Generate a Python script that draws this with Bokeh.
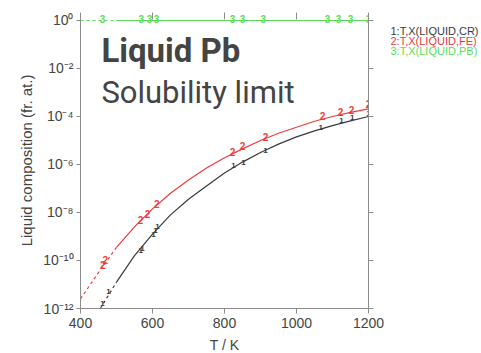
import numpy as np
from bokeh.plotting import figure
from bokeh.layouts import row
from bokeh.models import (LogAxis, LinearAxis, FixedTicker, CustomJSTickFormatter,
                          Label, Range1d)
from bokeh.core.properties import value
from bokeh.embed import file_html
from bokeh.resources import INLINE

# Calculated solubility of Fe and Cr in liquid Pb: log10 of mole fraction vs T (K)
temp_fe = [400, 450, 500, 550, 600, 650, 700, 750, 800, 850, 900, 950, 1000, 1050, 1100, 1150, 1200]
log_x_fe = [-11.6, -10.5, -9.45, -8.6, -7.85, -7.2, -6.65, -6.15, -5.72, -5.35, -5.0, -4.7,
            -4.45, -4.2, -4.0, -3.83, -3.68]
temp_cr = [455, 500, 550, 600, 650, 700, 750, 800, 850, 900, 950, 1000, 1050, 1100, 1150, 1200]
log_x_cr = [-12.0, -10.9, -9.8, -8.9, -8.1, -7.45, -6.9, -6.35, -5.9, -5.5, -5.15, -4.85,
            -4.6, -4.38, -4.18, -4.0]
# below this temperature the curves are drawn dashed (metastable extrapolation)
t_dashed_below = 500

# curve identifier labels placed along each calculated line
fe_label_t = [462, 469, 567, 586, 612, 822, 850, 914, 1072, 1122, 1153, 1200]
fe_label_log = [-10.2, -10.0, -8.3, -8.05, -7.65, -5.5, -5.25, -4.87, -3.96, -3.83, -3.75, -3.46]
cr_label_t = [461, 478, 567, 572, 603, 608, 614, 825, 853, 914, 1067, 1125, 1155, 1200]
cr_label_log = [-11.8, -11.3, -9.58, -9.5, -8.9, -8.75, -8.6, -6.04, -5.9, -5.42, -4.46, -4.17,
                -4.04, -3.88]
pb_label_t = [461, 569, 592, 611, 822, 850, 908, 1086, 1117, 1150, 1200]

x_ticks = [400, 600, 800, 1000, 1200]
y_ticks = [1e0, 1e-2, 1e-4, 1e-6, 1e-8, 1e-10, 1e-12]

legend_lines = ["1:T,X(LIQUID,CR)", "2:T,X(LIQUID,FE)", "3:T,X(LIQUID,PB)"]

RED = "#ee3b3b"
BLACK = "#3a3a3a"
GREEN = "#5ade5a"
AXIS = "#8c8c8c"
TEXT = "#444444"
FONT = "Liberation Sans"
HEAD_FONT = "Roboto"

p = figure(frame_width=288, frame_height=296, y_axis_type="log",
           x_range=Range1d(400, 1200), y_range=Range1d(1e-12, 10 ** 0.333),
           output_backend="svg", toolbar_location=None,
           min_border_left=80, min_border_right=22, min_border_top=12, min_border_bottom=45)
p.outline_line_color = None
p.xgrid.visible = False
p.ygrid.visible = False
p.background_fill_color = "white"
p.border_fill_color = "white"

sup_code = """
const sup = {'-':'\u207b','0':'\u2070','1':'\u00b9','2':'\u00b2','3':'\u00b3','4':'\u2074',
             '5':'\u2075','6':'\u2076','7':'\u2077','8':'\u2078','9':'\u2079'};
const e = Math.round(Math.log10(tick));
return '10' + String(e).split('').map(c => sup[c]).join('');
"""

# left (log) axis
ya = p.yaxis[0]
ya.ticker = FixedTicker(ticks=y_ticks, minor_ticks=[])
ya.formatter = CustomJSTickFormatter(code=sup_code)
ya.axis_label = "Liquid composition (fr. at.)"
ya.axis_label_text_font = FONT
ya.axis_label_text_font_style = "normal"
ya.axis_label_text_font_size = "15px"
ya.axis_label_text_color = TEXT
ya.axis_label_standoff = 5
ya.major_label_text_font = FONT
ya.major_label_text_font_size = "14px"
ya.major_label_text_color = TEXT
ya.major_label_standoff = 3
ya.major_tick_out = 4
ya.major_tick_in = 0
ya.axis_line_color = AXIS
ya.major_tick_line_color = AXIS

# bottom axis
xa = p.xaxis[0]
xa.ticker = FixedTicker(ticks=x_ticks, minor_ticks=[])
xa.axis_label = "T / K"
xa.axis_label_text_font = FONT
xa.axis_label_text_font_style = "normal"
xa.axis_label_text_font_size = "14px"
xa.axis_label_text_color = TEXT
xa.axis_label_standoff = 6
xa.major_label_text_font = FONT
xa.major_label_text_font_size = "14px"
xa.major_label_text_color = TEXT
xa.major_label_standoff = 4
xa.major_tick_out = 5
xa.major_tick_in = 0
xa.axis_line_color = AXIS
xa.major_tick_line_color = AXIS

blank = CustomJSTickFormatter(code="return '';")
right = LogAxis(ticker=FixedTicker(ticks=y_ticks, minor_ticks=[]), formatter=blank,
                major_tick_out=5, major_tick_in=0, major_label_standoff=0,
                major_label_text_font_size="1px",
                axis_line_color=AXIS, major_tick_line_color=AXIS)
p.add_layout(right, "right")
top = LinearAxis(ticker=FixedTicker(ticks=x_ticks[1:-1], minor_ticks=[]), formatter=blank,
                 major_tick_out=0, major_tick_in=7, major_label_standoff=0,
                 major_label_text_font_size="1px",
                 axis_line_color=None, major_tick_line_color=AXIS)
p.add_layout(top, "above")


# solubility curves, dashed at low temperature and solid above
def draw_curve(t, logx, color, width):
    t = np.asarray(t, dtype=float)
    y = 10.0 ** np.asarray(logx, dtype=float)
    lo = t <= t_dashed_below
    hi = t >= t_dashed_below
    p.line(t[lo], y[lo], line_color=color, line_width=width, line_dash="3 3")
    p.line(t[hi], y[hi], line_color=color, line_width=width)
    return t, y


t_fe, y_fe = draw_curve(temp_fe, log_x_fe, RED, 1.2)
t_cr, y_cr = draw_curve(temp_cr, log_x_cr, BLACK, 1.2)

# Pb fraction of the liquid: the balance of the Fe and Cr contents
t_pb = np.array(temp_fe, dtype=float)
y_cr_on_fe = 10.0 ** np.interp(t_pb, temp_cr, log_x_cr, left=-30)
y_pb = 1.0 - y_fe - y_cr_on_fe
draw_curve(t_pb, np.log10(y_pb), GREEN, 1.2)

# curve identifiers
p.text(x=fe_label_t, y=list(10.0 ** np.array(fe_label_log)), text=["2"] * len(fe_label_t),
       text_color=RED, text_font=value(FONT), text_font_size="10px",
       text_font_style="bold", text_align="center", text_baseline="middle")
p.text(x=cr_label_t, y=list(10.0 ** np.array(cr_label_log)), text=["1"] * len(cr_label_t),
       text_color=BLACK, text_font=value(FONT), text_font_size="8px",
       text_font_style="bold", text_align="center", text_baseline="middle")
pb_label_y = np.interp(pb_label_t, t_pb, y_pb)
p.text(x=pb_label_t, y=list(pb_label_y), text=["3"] * len(pb_label_t),
       text_color=GREEN, text_font=value(FONT), text_font_size="10px",
       text_font_style="bold", text_align="center", text_baseline="alphabetic", y_offset=-1)

# heading inside the plot
p.add_layout(Label(x=458, y=10 ** -1.25, text="Liquid Pb", text_color=TEXT,
                   text_font=HEAD_FONT, text_font_style="bold",
                   text_font_size="33px", text_baseline="alphabetic"))
p.add_layout(Label(x=458, y=10 ** -3.0, text="Solubility limit", text_color=TEXT,
                   text_font=HEAD_FONT, text_font_size="31px",
                   text_baseline="alphabetic"))

# key of the calculated quantities, in a narrow panel right of the diagram
key = figure(width=91, height=353, x_range=Range1d(0, 91), y_range=Range1d(353, 0),
             output_backend="svg", toolbar_location=None,
             min_border_left=0, min_border_right=0, min_border_top=0, min_border_bottom=0)
key.axis.visible = False
key.grid.visible = False
key.outline_line_color = None
key.background_fill_color = "white"
key.border_fill_color = "white"
legend_colors = [BLACK, RED, GREEN]
for i, (txt, col) in enumerate(zip(legend_lines, legend_colors)):
    key.add_layout(Label(x=0, y=22 + 12 * i, text=txt, text_color=col,
                         text_font=FONT, text_font_size="11px",
                         text_baseline="middle", text_align="left"))

layout = row(p, key, spacing=0)

with open("out.html", "w", encoding="utf-8") as f:
    f.write(file_html(layout, INLINE))
